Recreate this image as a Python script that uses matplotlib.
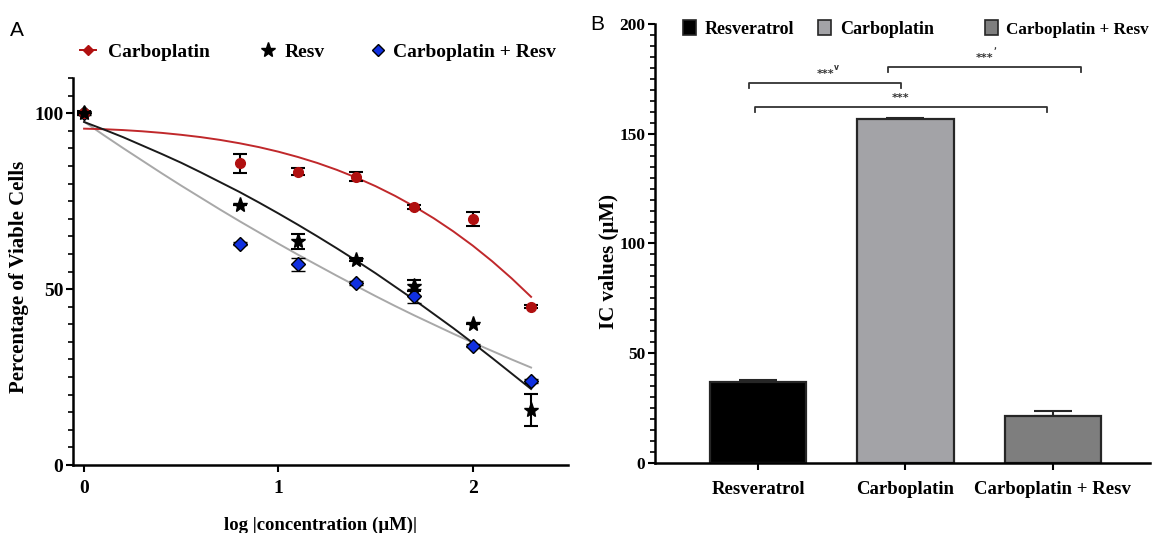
import matplotlib
matplotlib.use("Agg")
import matplotlib.pyplot as plt
from matplotlib.lines import Line2D
from matplotlib.patches import Patch
from matplotlib.ticker import MultipleLocator

# ---------------- Panel A data ----------------
log_conc = [0.0, 0.8, 1.1, 1.4, 1.7, 2.0, 2.3]
carbo_viab = [100.0, 85.7, 83.4, 82.0, 73.4, 70.0, 45.0]
carbo_err = [0.5, 2.8, 1.0, 1.3, 0.6, 2.0, 0.5]
resv_viab = [100.0, 73.8, 63.6, 58.4, 51.0, 40.1, 15.6]
resv_err = [0.0, 0.0, 2.2, 0.4, 1.5, 0.0, 4.5]
combo_viab = [100.0, 62.9, 57.0, 51.7, 48.0, 33.9, 23.9]
combo_err = [0.4, 0.5, 1.8, 0.5, 2.0, 0.5, 0.5]

# fitted curves
curve_x = [0.0, 0.1, 0.2, 0.3, 0.4, 0.5, 0.6, 0.7, 0.8, 0.9, 1.0, 1.1,
           1.2, 1.3, 1.4, 1.5, 1.6, 1.7, 1.8, 1.9, 2.0, 2.1, 2.2, 2.3]
carbo_fit = [95.6, 95.45, 95.2, 94.85, 94.4, 93.85, 93.2, 92.4, 91.45, 90.35, 89.05, 87.55,
             85.85, 83.9, 81.7, 79.25, 76.5, 73.45, 70.1, 66.4, 62.35, 57.9, 53.05, 47.8]
resv_fit = [97.5, 95.4, 93.2, 90.8, 88.4, 85.9, 83.2, 80.4, 77.6, 74.6, 71.5, 68.3,
            65.0, 61.6, 58.1, 54.5, 50.7, 46.9, 42.9, 38.9, 34.7, 30.4, 26.0, 21.6]
combo_fit = [97.6, 93.8, 90.1, 86.5, 82.9, 79.4, 76.0, 72.6, 69.3, 66.1, 62.9, 59.8,
             56.8, 53.8, 50.9, 48.0, 45.2, 42.5, 39.9, 37.3, 34.8, 32.4, 30.0, 27.7]

# ---------------- Panel B data ----------------
groups = ["Resveratrol", "Carboplatin", "Carboplatin + Resv"]
ic_values = [37.0, 156.5, 21.5]
ic_err = [1.0, 0.5, 2.0]
bar_colors = ["#000000", "#a3a3a7", "#7e7e7e"]

plt.rcParams["font.family"] = ["Liberation Serif", "DejaVu Serif"]
plt.rcParams["font.weight"] = "bold"

W, H = 1155, 533
fig = plt.figure(figsize=(W / 100, H / 100), dpi=100)


def fx(px):
    return px / W


def fy(py):
    return 1 - py / H


# ================= Panel A =================
axA = fig.add_axes([fx(73), fy(465), (568 - 73) / W, (465 - 78) / H])
axA.plot(curve_x, carbo_fit, color="#c0282b", lw=1.4, zorder=2)
axA.plot(curve_x, resv_fit, color="#1a1a1a", lw=1.4, zorder=2)
axA.plot(curve_x, combo_fit, color="#a8a8a8", lw=1.4, zorder=1)

axA.errorbar(log_conc, carbo_viab, yerr=carbo_err, fmt="o", color="#b01010",
             ms=7, ecolor="black", elinewidth=1.5, capsize=5, capthick=1.5, zorder=4)
axA.errorbar(log_conc, resv_viab, yerr=resv_err, fmt="*", color="black",
             ms=11, ecolor="black", elinewidth=1.5, capsize=5, capthick=1.5, zorder=5)
axA.errorbar(log_conc, combo_viab, yerr=combo_err, fmt="D", mfc="#1030e0", mec="black",
             mew=1.0, ms=7, ecolor="black", elinewidth=1.5, capsize=5, capthick=1.5, zorder=3)

axA.set_xlim(-0.057, 2.49)
axA.set_ylim(0, 110)
axA.set_xticks([0, 1, 2])
axA.set_yticks([0, 50, 100])
axA.yaxis.set_minor_locator(MultipleLocator(5))
for s in ["top", "right"]:
    axA.spines[s].set_visible(False)
for s in ["left", "bottom"]:
    axA.spines[s].set_linewidth(1.8)
axA.tick_params(axis="both", which="major", length=5, width=1.5, labelsize=14, pad=2)
axA.tick_params(axis="y", which="minor", length=3.5, width=1.2)
axA.tick_params(axis="x", pad=6)
for lab in axA.get_xticklabels() + axA.get_yticklabels():
    lab.set_fontweight("bold")
axA.set_ylabel("Percentage of Viable Cells", fontsize=15, fontweight="bold")
axA.yaxis.set_label_coords(-0.088, 0.486)
axA.set_xlabel("log |concentration (\u00b5M)|", fontsize=13.5, fontweight="bold", labelpad=14)

legA = [
    (Line2D([], [], color="#b01010", marker="D", ms=5, lw=1.4), "Carboplatin", 80, 0.62),
    (Line2D([], [], color="black", marker="*", ms=11, lw=0), "Resv", 260, 0.46),
    (Line2D([], [], color="black", marker="D", mfc="#1030e0", mec="black", ms=6.5, lw=0),
     "Carboplatin + Resv", 370, 0.36),
]
for h, lab, left, pad in legA:
    fig.legend([h], [lab], frameon=False, loc="center left",
               bbox_to_anchor=(fx(left), fy(52)), bbox_transform=fig.transFigure,
               prop={"size": 14, "weight": "bold"}, handlelength=0.82,
               handletextpad=pad, borderaxespad=0, borderpad=0)

fig.text(fx(10), fy(30), "A", fontsize=15, family="Liberation Sans",
         fontweight="normal", va="center", ha="left")

# ================= Panel B =================
axB = fig.add_axes([fx(655), fy(463), (1150 - 655) / W, (463 - 24) / H])
xpos = list(range(len(groups)))
axB.bar(xpos, ic_values, width=0.655, color=bar_colors, edgecolor="#262626", linewidth=1.6, zorder=2)
axB.errorbar(xpos, ic_values, yerr=[[0] * 3, ic_err], fmt="none", ecolor="#262626",
             elinewidth=1.5, capsize=14, capthick=1.5, zorder=1)
axB.set_xlim(-0.70, 2.66)
axB.set_ylim(0, 200)
axB.set_xticks(xpos)
axB.set_xticklabels(groups)
axB.set_yticks([0, 50, 100, 150, 200])
axB.yaxis.set_minor_locator(MultipleLocator(5))
for s in ["top", "right"]:
    axB.spines[s].set_visible(False)
for s in ["left", "bottom"]:
    axB.spines[s].set_linewidth(1.8)
axB.tick_params(axis="y", which="major", length=5, width=1.5, labelsize=12.5, pad=2)
axB.tick_params(axis="x", which="major", length=5, width=1.5, labelsize=13.5, pad=8)
axB.tick_params(axis="y", which="minor", length=3.5, width=1.2)
for lab in axB.get_xticklabels() + axB.get_yticklabels():
    lab.set_fontweight("bold")
axB.set_ylabel("IC values (\u00b5M)", fontsize=15, fontweight="bold")
axB.yaxis.set_label_coords(-0.072, 0.458)

# significance brackets
brackets = [(-0.06, 0.97, 173.0, "***", "v"),
            (0.88, 2.19, 180.5, "***", "\u02bc"),
            (-0.02, 1.96, 162.0, "***", "")]
for x0, x1, yb, txt, sup in brackets:
    axB.plot([x0, x0, x1, x1], [yb - 2.3, yb, yb, yb - 2.3], color="#333333", lw=1.3,
             clip_on=False)
    xc = (x0 + x1) / 2
    axB.text(xc, yb + 1.8, txt, ha="center", va="bottom", fontsize=8,
             color="#333333", family="DejaVu Sans", fontweight="bold")
    if sup:
        axB.annotate(sup, xy=(xc, yb + 1.8), xytext=(6.5, 5), textcoords="offset points",
                     ha="left", va="bottom", fontsize=5.5, color="#333333",
                     family="DejaVu Sans")

legB = [(683, 13, 0.5), (818, 13, 0.5), (985, 12.3, 0.45)]
for c, lab, (left, fs, pad) in zip(bar_colors, groups, legB):
    fig.legend([Patch(facecolor=c, edgecolor="#262626", linewidth=1.2)], [lab],
               frameon=False, loc="center left", bbox_to_anchor=(fx(left), fy(29)),
               bbox_transform=fig.transFigure, prop={"size": fs, "weight": "bold"},
               handlelength=0.72 * 13 / fs, handleheight=0.94 * 13 / fs, handletextpad=pad,
               borderaxespad=0, borderpad=0)

fig.text(fx(597), fy(25), "B", fontsize=15, family="Liberation Sans",
         fontweight="normal", va="center", ha="center")

fig.savefig("out.png", dpi=100)
